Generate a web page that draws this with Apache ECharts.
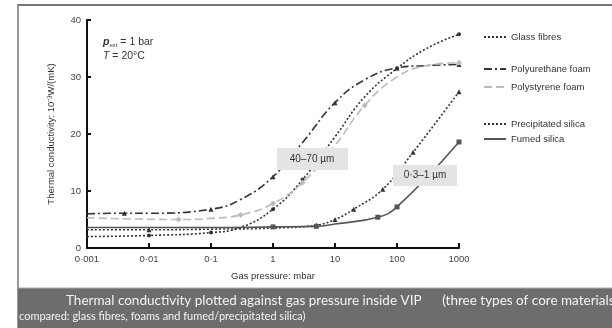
<!DOCTYPE html>
<html>
<head>
<meta charset="utf-8">
<script src="https://cdn.jsdelivr.net/npm/echarts@6/dist/echarts.min.js"></script>
<style>
  html, body { margin: 0; padding: 0; background: #fff; }
  #chart { width: 612px; height: 328px; }
</style>
</head>
<body>
<div id="chart"></div>
<script>
// gas pressure in mbar, conductivity in 10^-3 W/(mK)
var glassP  = [0.001, 0.01, 0.1, 0.3, 1, 3, 10, 30, 100, 300, 1000];
var glassK  = [2.0, 2.2, 2.7, 3.6, 6.8, 12.0, 19.5, 26.5, 31.5, 35.0, 37.5];
var glassMarks = [1, 2, 4, 5, 8, 10];

var puP  = [0.001, 0.004, 0.01, 0.1, 0.3, 1, 3, 10, 30, 100, 300, 1000];
var puK  = [6.0, 6.1, 6.1, 6.8, 8.5, 12.5, 18.5, 25.5, 29.5, 31.6, 32.0, 32.2];
var puMarks = [1, 3, 5, 7, 9, 11];

var psP  = [0.001, 0.03, 0.1, 0.3, 1, 3, 10, 30, 100, 300, 1000];
var psK  = [5.3, 5.0, 5.2, 5.8, 7.8, 11.5, 18.0, 25.0, 30.0, 32.0, 32.5];
var psMarks = [1, 3, 4, 5, 7, 10];

var precP = [0.001, 0.01, 0.1, 1, 5, 10, 20, 59, 182, 1000];
var precK = [3.2, 3.2, 3.3, 3.5, 4.0, 5.0, 6.8, 10.3, 16.8, 27.4];
var precMarks = [1, 4, 5, 6, 7, 8, 9];

var fumedP = [0.001, 0.01, 0.1, 1, 5, 10, 49, 100, 1000];
var fumedK = [3.6, 3.6, 3.6, 3.7, 3.8, 4.2, 5.4, 7.2, 18.6];
var fumedMarks = [3, 4, 6, 7, 8];

var xTicks = ['0·001', '0·01', '0·1', '1', '10', '100', '1000'];

var legendNames = ['Glass fibres', 'Polyurethane foam', 'Polystyrene foam', 'Precipitated silica', 'Fumed silica'];
var legendTops = [27, 59, 77, 114, 129];

function pairs(p, k) {
    return p.map(function (v, i) { return [v, k[i]]; });
}

function makeSeries(name, p, k, marks, sym, color, dash, size) {
    return {
        name: name,
        type: 'line',
        smooth: 0.45,
        data: pairs(p, k),
        showAllSymbol: true,
        symbol: function (val, params) {
            return marks.indexOf(params.dataIndex) >= 0 ? sym : 'none';
        },
        symbolSize: size,
        itemStyle: { color: color },
        lineStyle: { color: color, width: 1.6, type: dash },
        emphasis: { disabled: true }
    };
}

var myChart = echarts.init(document.getElementById('chart'));

var legends = legendNames.map(function (n, i) {
    return {
        orient: 'vertical',
        left: 478,
        top: legendTops[i],
        data: [n],
        itemWidth: 22,
        itemHeight: 8,
        textStyle: { fontFamily: 'Liberation Sans', fontSize: 9.5, color: '#333' },
        itemStyle: { opacity: 0 },
        selectedMode: false
    };
});

var option = {
    animation: false,
    grid: { left: 87, right: 153, top: 20, bottom: 80 },
    legend: legends,
    xAxis: {
        type: 'log',
        min: 0.001,
        max: 1000,
        logBase: 10,
        name: 'Gas pressure: mbar',
        nameLocation: 'middle',
        nameGap: 23,
        nameTextStyle: { fontFamily: 'Liberation Sans', fontSize: 9.5, color: '#333' },
        axisLine: { lineStyle: { color: '#111', width: 2 } },
        axisTick: { inside: true, length: 5, lineStyle: { width: 2, color: '#111' } },
        minorTick: { show: false },
        splitLine: { show: false },
        axisLabel: {
            fontFamily: 'Liberation Sans', fontSize: 9.5, color: '#444', margin: 6,
            formatter: function (v) {
                var i = Math.round(Math.log10(v)) + 3;
                return xTicks[i];
            }
        }
    },
    yAxis: {
        type: 'value',
        min: 0,
        max: 40,
        interval: 10,
        name: 'Thermal conductivity: 10\u207B\u00B3W/(mK)',
        nameLocation: 'middle',
        nameGap: 31,
        nameTextStyle: { fontFamily: 'Liberation Sans', fontSize: 9.5, color: '#333' },
        axisLine: { show: true, lineStyle: { color: '#111', width: 2 } },
        axisTick: { show: true, inside: true, length: 4, lineStyle: { width: 2, color: '#111' } },
        splitLine: { show: false },
        axisLabel: { fontFamily: 'Liberation Sans', fontSize: 9.5, color: '#444', margin: 6 }
    },
    series: [
        makeSeries('Glass fibres', glassP, glassK, glassMarks, 'circle', '#333', [2, 2], 4),
        makeSeries('Polyurethane foam', puP, puK, puMarks, 'triangle', '#333', [8, 3, 2, 3], 5),
        makeSeries('Polystyrene foam', psP, psK, psMarks, 'diamond', '#bbb', [8, 4], 6),
        makeSeries('Precipitated silica', precP, precK, precMarks, 'triangle', '#333', [2, 2], 5),
        makeSeries('Fumed silica', fumedP, fumedK, fumedMarks, 'rect', '#555', 'solid', 5)
    ],
    graphic: [
        // frame
        { type: 'line', shape: { x1: 18, y1: 5, x2: 612, y2: 5 }, style: { stroke: '#777', lineWidth: 2 }, z: 10 },
        { type: 'line', shape: { x1: 18, y1: 4, x2: 18, y2: 328 }, style: { stroke: '#777', lineWidth: 1.5 }, z: 10 },
        // caption band
        { type: 'rect', shape: { x: 18, y: 288, width: 594, height: 40 }, style: { fill: '#6d6d6d' }, z: 10 },
        { type: 'line', shape: { x1: 18, y1: 288, x2: 612, y2: 288 }, style: { stroke: '#aaa', lineWidth: 1 }, z: 11 },
        { type: 'text', left: 66, top: 294, z: 11,
          style: { text: 'Thermal conductivity plotted against gas pressure inside VIP      (three types of core materials',
                   fill: '#f4f4f4', font: '13.5px Lato' } },
        { type: 'text', left: 19, top: 311, z: 11,
          style: { text: 'compared: glass fibres, foams and fumed/precipitated silica)',
                   fill: '#f4f4f4', font: '11px Lato' } },
        // conditions
        { type: 'text', left: 103, top: 37, z: 11,
          style: {
            text: '{b|p}{s|ext}{n| = 1 bar}',
            rich: {
                b: { fontFamily: 'Liberation Sans', fontSize: 10.5, fontStyle: 'italic', fontWeight: 'bold', fill: '#333' },
                s: { fontFamily: 'Liberation Sans', fontSize: 6, fill: '#333', verticalAlign: 'bottom', padding: [4, 0, 0, 0] },
                n: { fontFamily: 'Liberation Sans', fontSize: 10.5, fill: '#333' }
            }
          } },
        { type: 'text', left: 103, top: 51, z: 11,
          style: {
            text: '{i|T}{n| = 20°C}',
            rich: {
                i: { fontFamily: 'Liberation Sans', fontSize: 10.5, fontStyle: 'italic', fill: '#333' },
                n: { fontFamily: 'Liberation Sans', fontSize: 10.5, fill: '#333' }
            }
          } },
        // size labels
        { type: 'rect', shape: { x: 277, y: 148, width: 71, height: 22 }, style: { fill: '#e4e4e4' }, z: 11 },
        { type: 'text', x: 312, y: 159, z: 12,
          style: { text: '40–70 µm', fill: '#333', font: '10px "Liberation Sans"', align: 'center', verticalAlign: 'middle' } },
        { type: 'rect', shape: { x: 393, y: 165, width: 64, height: 21 }, style: { fill: '#e4e4e4' }, z: 11 },
        { type: 'text', x: 425, y: 175.5, z: 12,
          style: { text: '0·3–1 µm', fill: '#333', font: '10px "Liberation Sans"', align: 'center', verticalAlign: 'middle' } }
    ]
};

myChart.setOption(option);
</script>
</body>
</html>
